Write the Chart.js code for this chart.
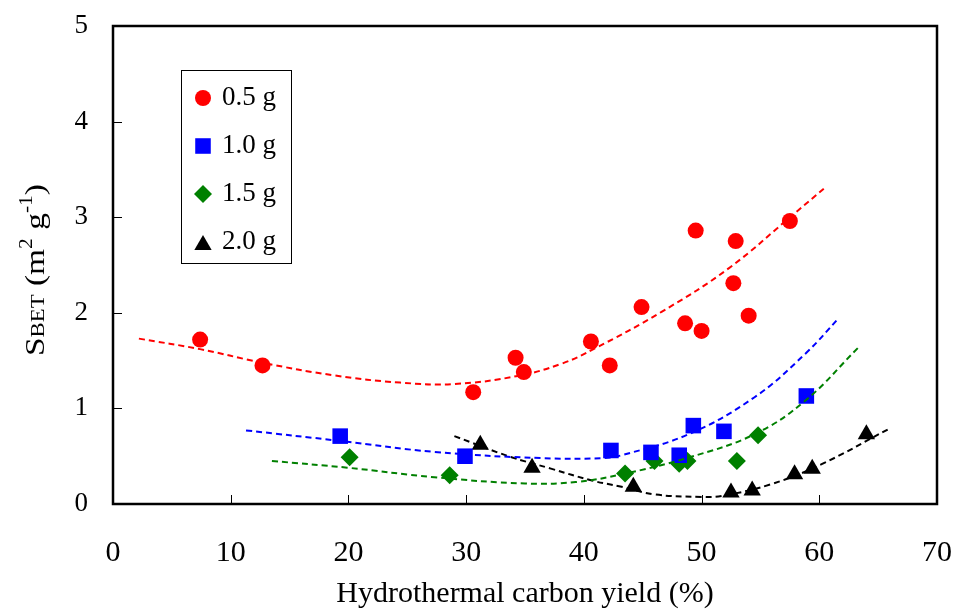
<!DOCTYPE html>
<html><head><meta charset="utf-8">
<script src="https://cdn.jsdelivr.net/npm/chart.js@4/dist/chart.umd.min.js"></script>
<style>html,body{margin:0;padding:0;background:#fff}</style>
</head><body>
<canvas id="c" width="956" height="612"></canvas>
<script>
// ---- data ----
const xTickValues = [0, 10, 20, 30, 40, 50, 60, 70];
const yTickValues = [0, 1, 2, 3, 4, 5];
const seriesNames = ['0.5 g', '1.0 g', '1.5 g', '2.0 g'];

const yield05 = [7.4, 12.7, 30.6, 34.2, 34.9, 40.6, 42.2, 44.9, 48.6, 49.5, 50.0, 52.7, 52.9, 54.0, 57.5];
const sbet05  = [1.72, 1.45, 1.17, 1.53, 1.38, 1.70, 1.45, 2.06, 1.89, 2.86, 1.81, 2.31, 2.75, 1.97, 2.96];

const yield10 = [19.3, 29.9, 42.3, 45.7, 48.1, 49.3, 51.9, 58.9];
const sbet10  = [0.71, 0.50, 0.56, 0.54, 0.51, 0.82, 0.76, 1.13];

const yield15 = [20.1, 28.6, 43.5, 46.0, 48.1, 48.8, 53.0, 54.8];
const sbet15  = [0.49, 0.30, 0.32, 0.45, 0.42, 0.45, 0.45, 0.72];

const yield20 = [31.2, 35.6, 44.2, 52.5, 54.3, 57.9, 59.4, 64.0];
const sbet20  = [0.62, 0.38, 0.18, 0.12, 0.14, 0.31, 0.37, 0.73];

// dashed trend curves
const trend05X = [2.2, 7.4, 12.6, 18.8, 24.4, 29.0, 34.4, 38.1, 40.9, 46.6, 52.3, 57.9, 60.6];
const trend05Y = [1.73, 1.62, 1.48, 1.345, 1.27, 1.255, 1.34, 1.467, 1.625, 2.01, 2.465, 3.04, 3.32];
const trend10X = [11.3, 19.3, 27.3, 36.4, 41.6, 43.2, 48.9, 54.5, 58.8, 61.7];
const trend10Y = [0.77, 0.66, 0.545, 0.48, 0.48, 0.51, 0.73, 1.117, 1.57, 1.95];
const trend15X = [13.5, 19.9, 27.3, 35.0, 39.3, 43.2, 48.9, 54.5, 58.8, 63.3];
const trend15Y = [0.45, 0.38, 0.28, 0.215, 0.23, 0.31, 0.486, 0.73, 1.08, 1.635];
const trend20X = [29.0, 33.6, 37.2, 40.7, 43.2, 46.0, 50.0, 51.7, 55.9, 60.2, 65.9];
const trend20Y = [0.71, 0.50, 0.37, 0.245, 0.18, 0.10, 0.074, 0.084, 0.207, 0.417, 0.785];

// ---- styling ----
const FONT = "'Liberation Serif', 'Times New Roman', serif";
const colors = ['#ff0000', '#0000ff', '#008000', '#000000'];
const styles = ['circle', 'rect', 'rectRot', 'triangle'];
const radii = [8, 11, 9, 10];

const pts = (xs, ys) => xs.map((x, i) => ({x: x, y: ys[i]}));
const markerSets = [[yield05, sbet05], [yield10, sbet10], [yield15, sbet15], [yield20, sbet20]];
const trendSets = [[trend05X, trend05Y], [trend10X, trend10Y], [trend15X, trend15Y], [trend20X, trend20Y]];

const datasets = [];
markerSets.forEach((s, i) => datasets.push({
  label: seriesNames[i], data: pts(s[0], s[1]), showLine: false,
  pointStyle: styles[i], pointRadius: radii[i], pointHoverRadius: radii[i],
  pointBackgroundColor: colors[i], pointBorderColor: colors[i], pointBorderWidth: 0,
  order: 2
}));
trendSets.forEach((s, i) => datasets.push({
  label: 'trend ' + seriesNames[i], data: pts(s[0], s[1]), showLine: true,
  pointRadius: 0, pointHoverRadius: 0, borderColor: colors[i], borderWidth: 2,
  borderDash: [6, 4], tension: 0.4, fill: false, order: 1
}));

const zeroPad = s => { s.paddingTop = 0; s.paddingBottom = 0; s.paddingLeft = 0; s.paddingRight = 0; };

const framePlugin = {
  id: 'frame',
  afterDatasetsDraw(chart) {
    const {ctx, chartArea: a, scales: {x, y}} = chart;
    ctx.save();
    ctx.strokeStyle = '#000';
    ctx.lineWidth = 1;
    ctx.beginPath();
    xTickValues.forEach(v => { const p = Math.round(x.getPixelForValue(v)) + 0.5; ctx.moveTo(p, a.bottom); ctx.lineTo(p, a.bottom - 9); });
    yTickValues.forEach(v => { const p = Math.round(y.getPixelForValue(v)) + 0.5; ctx.moveTo(a.left, p); ctx.lineTo(a.left + 9, p); });
    ctx.stroke();
    ctx.lineWidth = 2.5;
    ctx.strokeRect(a.left, a.top, a.right - a.left, a.bottom - a.top);
    ctx.restore();
  },
  afterDraw(chart) {
    const ctx = chart.ctx;
    // legend
    ctx.save();
    ctx.strokeStyle = '#000'; ctx.lineWidth = 1;
    ctx.strokeRect(181.5, 70.5, 110, 193);
    ctx.font = '27px ' + FONT; ctx.fillStyle = '#000';
    ctx.textBaseline = 'middle'; ctx.textAlign = 'left';
    seriesNames.forEach((n, i) => {
      const cy = 98 + 48 * i;
      ctx.fillStyle = colors[i]; ctx.strokeStyle = colors[i]; ctx.lineWidth = 0;
      Chart.helpers.drawPoint(ctx, {pointStyle: styles[i], radius: radii[i], rotation: 0, borderWidth: 0}, 203, cy + (i === 3 ? 3 : 0));
      ctx.fillStyle = '#000';
      ctx.fillText(n, 222, cy);
    });
    ctx.restore();
    // y-axis title with sub/superscripts
    ctx.save();
    ctx.translate(44, 356);
    ctx.rotate(-Math.PI / 2);
    const segs = [
      {t: 'S', size: 28, dy: 0},
      {t: 'BET', size: 19, dy: 0},
      {t: ' (m', size: 28, dy: 0},
      {t: '2', size: 18, dy: -12},
      {t: ' g', size: 28, dy: 0},
      {t: '-1', size: 18, dy: -12},
      {t: ')', size: 28, dy: 0}
    ];
    let total = 0;
    segs.forEach(s => { ctx.font = s.size + 'px ' + FONT; s.w = ctx.measureText(s.t).width; total += s.w; });
    const sx = 172 / total;
    ctx.scale(sx, 1);
    ctx.fillStyle = '#000'; ctx.textBaseline = 'alphabetic'; ctx.textAlign = 'left';
    let cx = 0;
    segs.forEach(s => { ctx.font = s.size + 'px ' + FONT; ctx.fillText(s.t, cx, s.dy); cx += s.w; });
    ctx.restore();
  }
};

new Chart(document.getElementById('c'), {
  type: 'scatter',
  data: {datasets: datasets},
  options: {
    responsive: false, animation: false,
    layout: {padding: {top: 26, right: 19, left: 0, bottom: 0}},
    plugins: {legend: {display: false}, tooltip: {enabled: false}},
    scales: {
      x: {
        type: 'linear', min: 0, max: 70,
        afterFit: s => { s.height = 108; zeroPad(s); },
        afterBuildTicks: s => { s.ticks = xTickValues.map(v => ({value: v})); },
        grid: {display: false, drawTicks: false}, border: {display: false},
        ticks: {font: {family: FONT, size: 30}, color: '#000', padding: 31, maxRotation: 0},
        title: {display: true, text: 'Hydrothermal carbon yield (%)', color: '#000', font: {family: FONT, size: 30}, padding: 0}
      },
      y: {
        type: 'linear', min: 0, max: 5,
        afterFit: s => { s.width = 113; zeroPad(s); },
        afterBuildTicks: s => { s.ticks = yTickValues.map(v => ({value: v})); },
        grid: {display: false, drawTicks: false}, border: {display: false},
        ticks: {font: {family: FONT, size: 27}, color: '#000', padding: 25}
      }
    }
  },
  plugins: [framePlugin]
});
</script>
</body></html>
